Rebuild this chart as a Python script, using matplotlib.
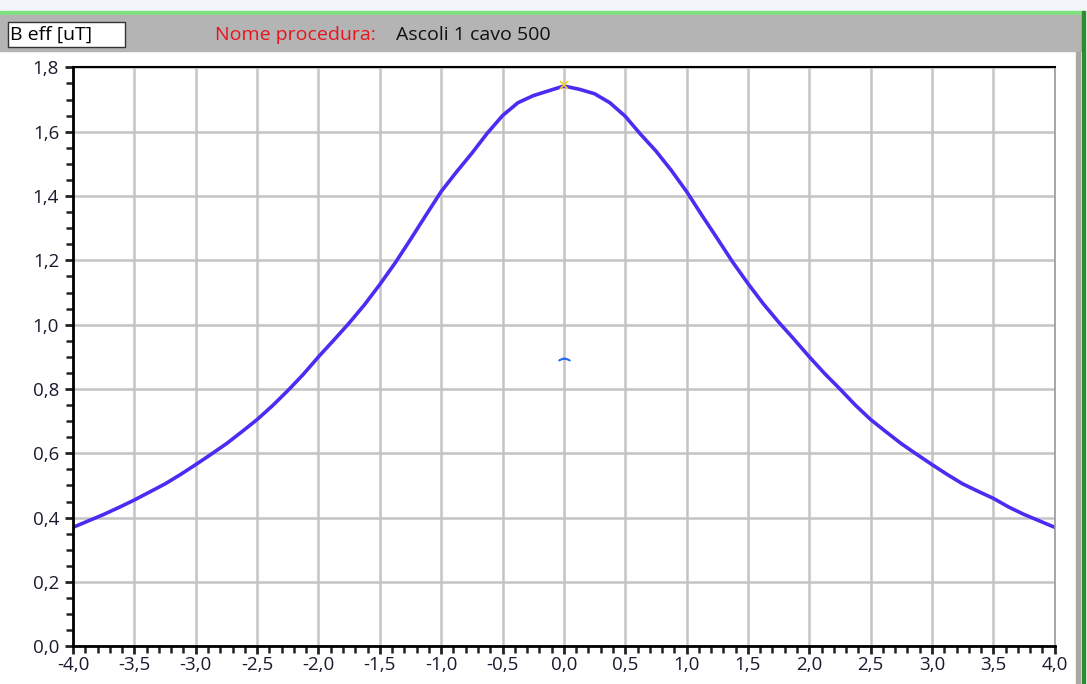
import matplotlib
matplotlib.use("Agg")
import matplotlib.pyplot as plt
from matplotlib.ticker import MultipleLocator, FuncFormatter
from matplotlib.patches import Rectangle

# distanza [m] e induzione B eff [uT]
dist = [-4.0, -3.875, -3.75, -3.625, -3.5, -3.375, -3.25, -3.125, -3.0,
        -2.875, -2.75, -2.625, -2.5, -2.375, -2.25, -2.125, -2.0, -1.875,
        -1.75, -1.625, -1.5, -1.375, -1.25, -1.125, -1.0, -0.875, -0.75,
        -0.625, -0.5, -0.375, -0.25, -0.125, 0.0,
        0.125, 0.25, 0.375, 0.5, 0.625, 0.75, 0.875, 1.0, 1.125, 1.25,
        1.375, 1.5, 1.625, 1.75, 1.875, 2.0, 2.125, 2.25, 2.375, 2.5,
        2.625, 2.75, 2.875, 3.0, 3.125, 3.25, 3.375, 3.5, 3.625, 3.75,
        3.875, 4.0]
b_eff = [0.37, 0.39, 0.41, 0.432, 0.455, 0.48, 0.505, 0.534, 0.565,
         0.597, 0.63, 0.667, 0.705, 0.748, 0.795, 0.845, 0.90, 0.952,
         1.005, 1.062, 1.125, 1.192, 1.265, 1.34, 1.414, 1.475, 1.533,
         1.595, 1.650, 1.690, 1.712, 1.727, 1.742,
         1.732, 1.718, 1.690, 1.648, 1.592, 1.54, 1.48, 1.414, 1.34, 1.268,
         1.195, 1.128, 1.065, 1.008, 0.955, 0.90, 0.848, 0.80, 0.75, 0.705,
         0.667, 0.63, 0.597, 0.565, 0.534, 0.505, 0.482, 0.46, 0.433, 0.41,
         0.39, 0.37]

# cursori
max_x, max_y = [0.0], [1.745]
mid_x, mid_y = [0.0], [0.893]

fig = plt.figure(figsize=(10.87, 6.84), dpi=100)
fig.patch.set_facecolor("white")

# cornice finestra (coordinate pixel)
bg = fig.add_axes([0, 0, 1, 1], zorder=0)
bg.set_xlim(0, 1087)
bg.set_ylim(684, 0)
bg.axis("off")
bg.add_patch(Rectangle((0, 0), 1087, 11, color="#f2f6fb"))
bg.add_patch(Rectangle((0, 11), 1083, 4, color="#7fe07f"))
bg.add_patch(Rectangle((0, 15), 1082, 36, color="#b4b4b4"))
bg.add_patch(Rectangle((1076, 52), 4, 632, color="#a8a8a8"))
bg.add_patch(Rectangle((1082, 11), 3, 673, color="#2e8b2e"))
bg.add_patch(Rectangle((8, 22), 117, 25, facecolor="white", edgecolor="#333333", linewidth=1))
bg.text(10, 35, "B eff [uT]", fontsize=14, family="Open Sans", va="center", ha="left", color="black")
bg.text(215, 35, "Nome procedura:", fontsize=14, family="Open Sans", va="center", ha="left", color="#e8141e")
bg.text(396, 35, "Ascoli 1 cavo 500", fontsize=14, family="Open Sans", va="center", ha="left", color="#111111")

ax = fig.add_axes([0.0672, 0.0551, 0.9031, 0.8464], zorder=1)
ax.plot(dist, b_eff, "-", color="#4a2cf2", linewidth=2.6, solid_capstyle="round", solid_joinstyle="round")
ax.plot(max_x, max_y, "x", color="#f0d020", markersize=6, markeredgewidth=1.2)
ax.plot(mid_x, mid_y, marker=r"$\frown$", linestyle="none", color="#2a6df5", markersize=8)

ax.set_xlim(-4.0, 4.0)
ax.set_ylim(0.0, 1.8)
ax.xaxis.set_major_locator(MultipleLocator(0.5))
ax.xaxis.set_minor_locator(MultipleLocator(0.1))
ax.yaxis.set_major_locator(MultipleLocator(0.2))
ax.yaxis.set_minor_locator(MultipleLocator(0.05))
fmt = FuncFormatter(lambda v, p: f"{v:.1f}".replace(".", ",").replace("-0,0", "0,0"))
ax.xaxis.set_major_formatter(fmt)
ax.yaxis.set_major_formatter(fmt)

ax.grid(True, which="major", color="#c4c4c4", linewidth=1.8)
ax.set_axisbelow(True)
ax.tick_params(which="major", direction="out", length=6, width=2, color="#222222",
               labelsize=13.5, labelcolor="#1a1a2e")
ax.tick_params(axis="y", which="major", pad=4)
ax.tick_params(axis="x", which="major", pad=1)
ax.tick_params(which="minor", direction="out", length=5, width=1.8, color="#222222")
for lab in ax.get_xticklabels() + ax.get_yticklabels():
    lab.set_family("Open Sans")

ax.spines["left"].set_linewidth(2)
ax.spines["bottom"].set_linewidth(2)
ax.spines["top"].set_linewidth(1.5)
ax.spines["right"].set_linewidth(1.2)
ax.spines["right"].set_color("#9a9a9a")

fig.savefig("out.png", dpi=100)
